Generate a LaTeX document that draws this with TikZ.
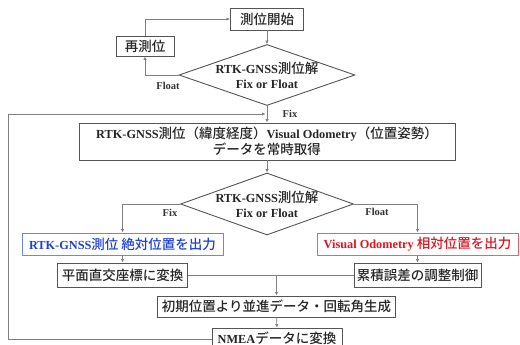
\documentclass[tikz,border=0pt]{standalone}
\usepackage{fontspec}
\setmainfont{Liberation Serif}
\newfontfamily\jpf{Noto Sans CJK JP}[UprightFont={* Medium}]
\usetikzlibrary{shapes.geometric,arrows.meta}
\newcommand{\J}[1]{{\jpf\mdseries\fontsize{13.5}{16}\selectfont #1}}
\definecolor{boxgray}{HTML}{555555}
\definecolor{linegray}{HTML}{808080}
\definecolor{bluetxt}{HTML}{1E3FD8}
\definecolor{blueline}{HTML}{6A86F5}
\definecolor{redtxt}{HTML}{E0141E}
\definecolor{redline}{HTML}{F06068}
\tikzset{
  box/.style={draw=boxgray, line width=0.9pt, fill=white, inner sep=0pt, align=center,
    font=\bfseries\fontsize{12.3}{16}\selectfont, text=black!85},
  bluebox/.style={box, draw=blueline, text=bluetxt},
  redbox/.style={box, draw=redline, text=redtxt},
  dia/.style={diamond, aspect=2.9, draw=boxgray, line width=0.9pt, fill=white, inner sep=-2pt,
    align=center, font=\bfseries\fontsize{12.3}{15}\selectfont, text=black!85},
  conn/.style={draw=linegray, line width=0.7pt},
  arr/.style={conn, -{Latex[length=3.5pt,width=3.5pt]}},
  lbl/.style={font=\bfseries\fontsize{10.5}{12}\selectfont, text=black!80}
}
\begin{document}
\begin{tikzpicture}[x=1pt,y=-1pt]
\useasboundingbox (0,0) rectangle (520,345);
% nodes
\node[box, minimum width=73, minimum height=22] (start) at (267,19) {\J{測位開始}};
\node[box, minimum width=58, minimum height=20] (retry) at (145,46) {\J{再測位}};
\node[dia, minimum width=176, minimum height=61] (d1) at (267,75) {RTK-GNSS\J{測位解}\\Fix or Float};
\node[box, minimum width=376, minimum height=37] (data) at (267,141.5)
  {RTK-GNSS\J{測位（緯度経度）}Visual Odometry\J{（位置姿勢）}\\\J{データを常時取得}};
\node[dia, minimum width=173, minimum height=62] (d2) at (267,204) {RTK-GNSS\J{測位解}\\Fix or Float};
\node[bluebox, minimum width=201, minimum height=22] (abs) at (122.5,244) {RTK-GNSS\J{測位 絶対位置を出力}};
\node[redbox, minimum width=201, minimum height=22] (rel) at (417.5,244) {Visual Odometry \J{相対位置を出力}};
\node[box, minimum width=130, minimum height=24] (plane) at (122.5,275) {\J{平面直交座標に変換}};
\node[box, minimum width=127, minimum height=24] (acc) at (417.5,275) {\J{累積誤差の調整制御}};
\node[box, minimum width=238, minimum height=21] (gen) at (276.5,306.5) {\J{初期位置より並進データ・回転角生成}};
\node[box, minimum width=130, minimum height=22, text depth=2pt] (nmea) at (277,339) {NMEA\J{データに変換}};
% labels
\node[lbl] (lfloat1) at (168,86) {Float};
\node[lbl] (lfix1) at (290,114) {Fix};
\node[lbl] (lfix2) at (170,213) {Fix};
\node[lbl] (lfloat2) at (377,212) {Float};
% connectors
\draw[arr] (start) -- (d1);
\draw[arr] (d1.west) -| (retry.south);
\draw[arr] (retry.north) |- (start.west);
\draw[arr] (d1.south) -- (data.north);
\draw[arr] (data.south) -- (d2.north);
\draw[arr] (d2.west) -| (abs.north);
\draw[arr] (d2.east) -| (rel.north);
\draw[arr] (abs) -- (plane);
\draw[arr] (rel) -- (acc);
\coordinate (m) at (276.5,275);
\draw[conn] (plane.east) -- (m);
\draw[conn] (acc.west) -- (m);
\draw[arr] (m) -- (gen.north);
\draw[arr] (gen) -- (nmea);
\coordinate (c1) at (8,339);
\coordinate (c2) at (8,114);
\coordinate (fb) at (265.5,114);
\draw[arr] (nmea.west) -- (c1) -- (c2) -- (fb);
\end{tikzpicture}
\end{document}
